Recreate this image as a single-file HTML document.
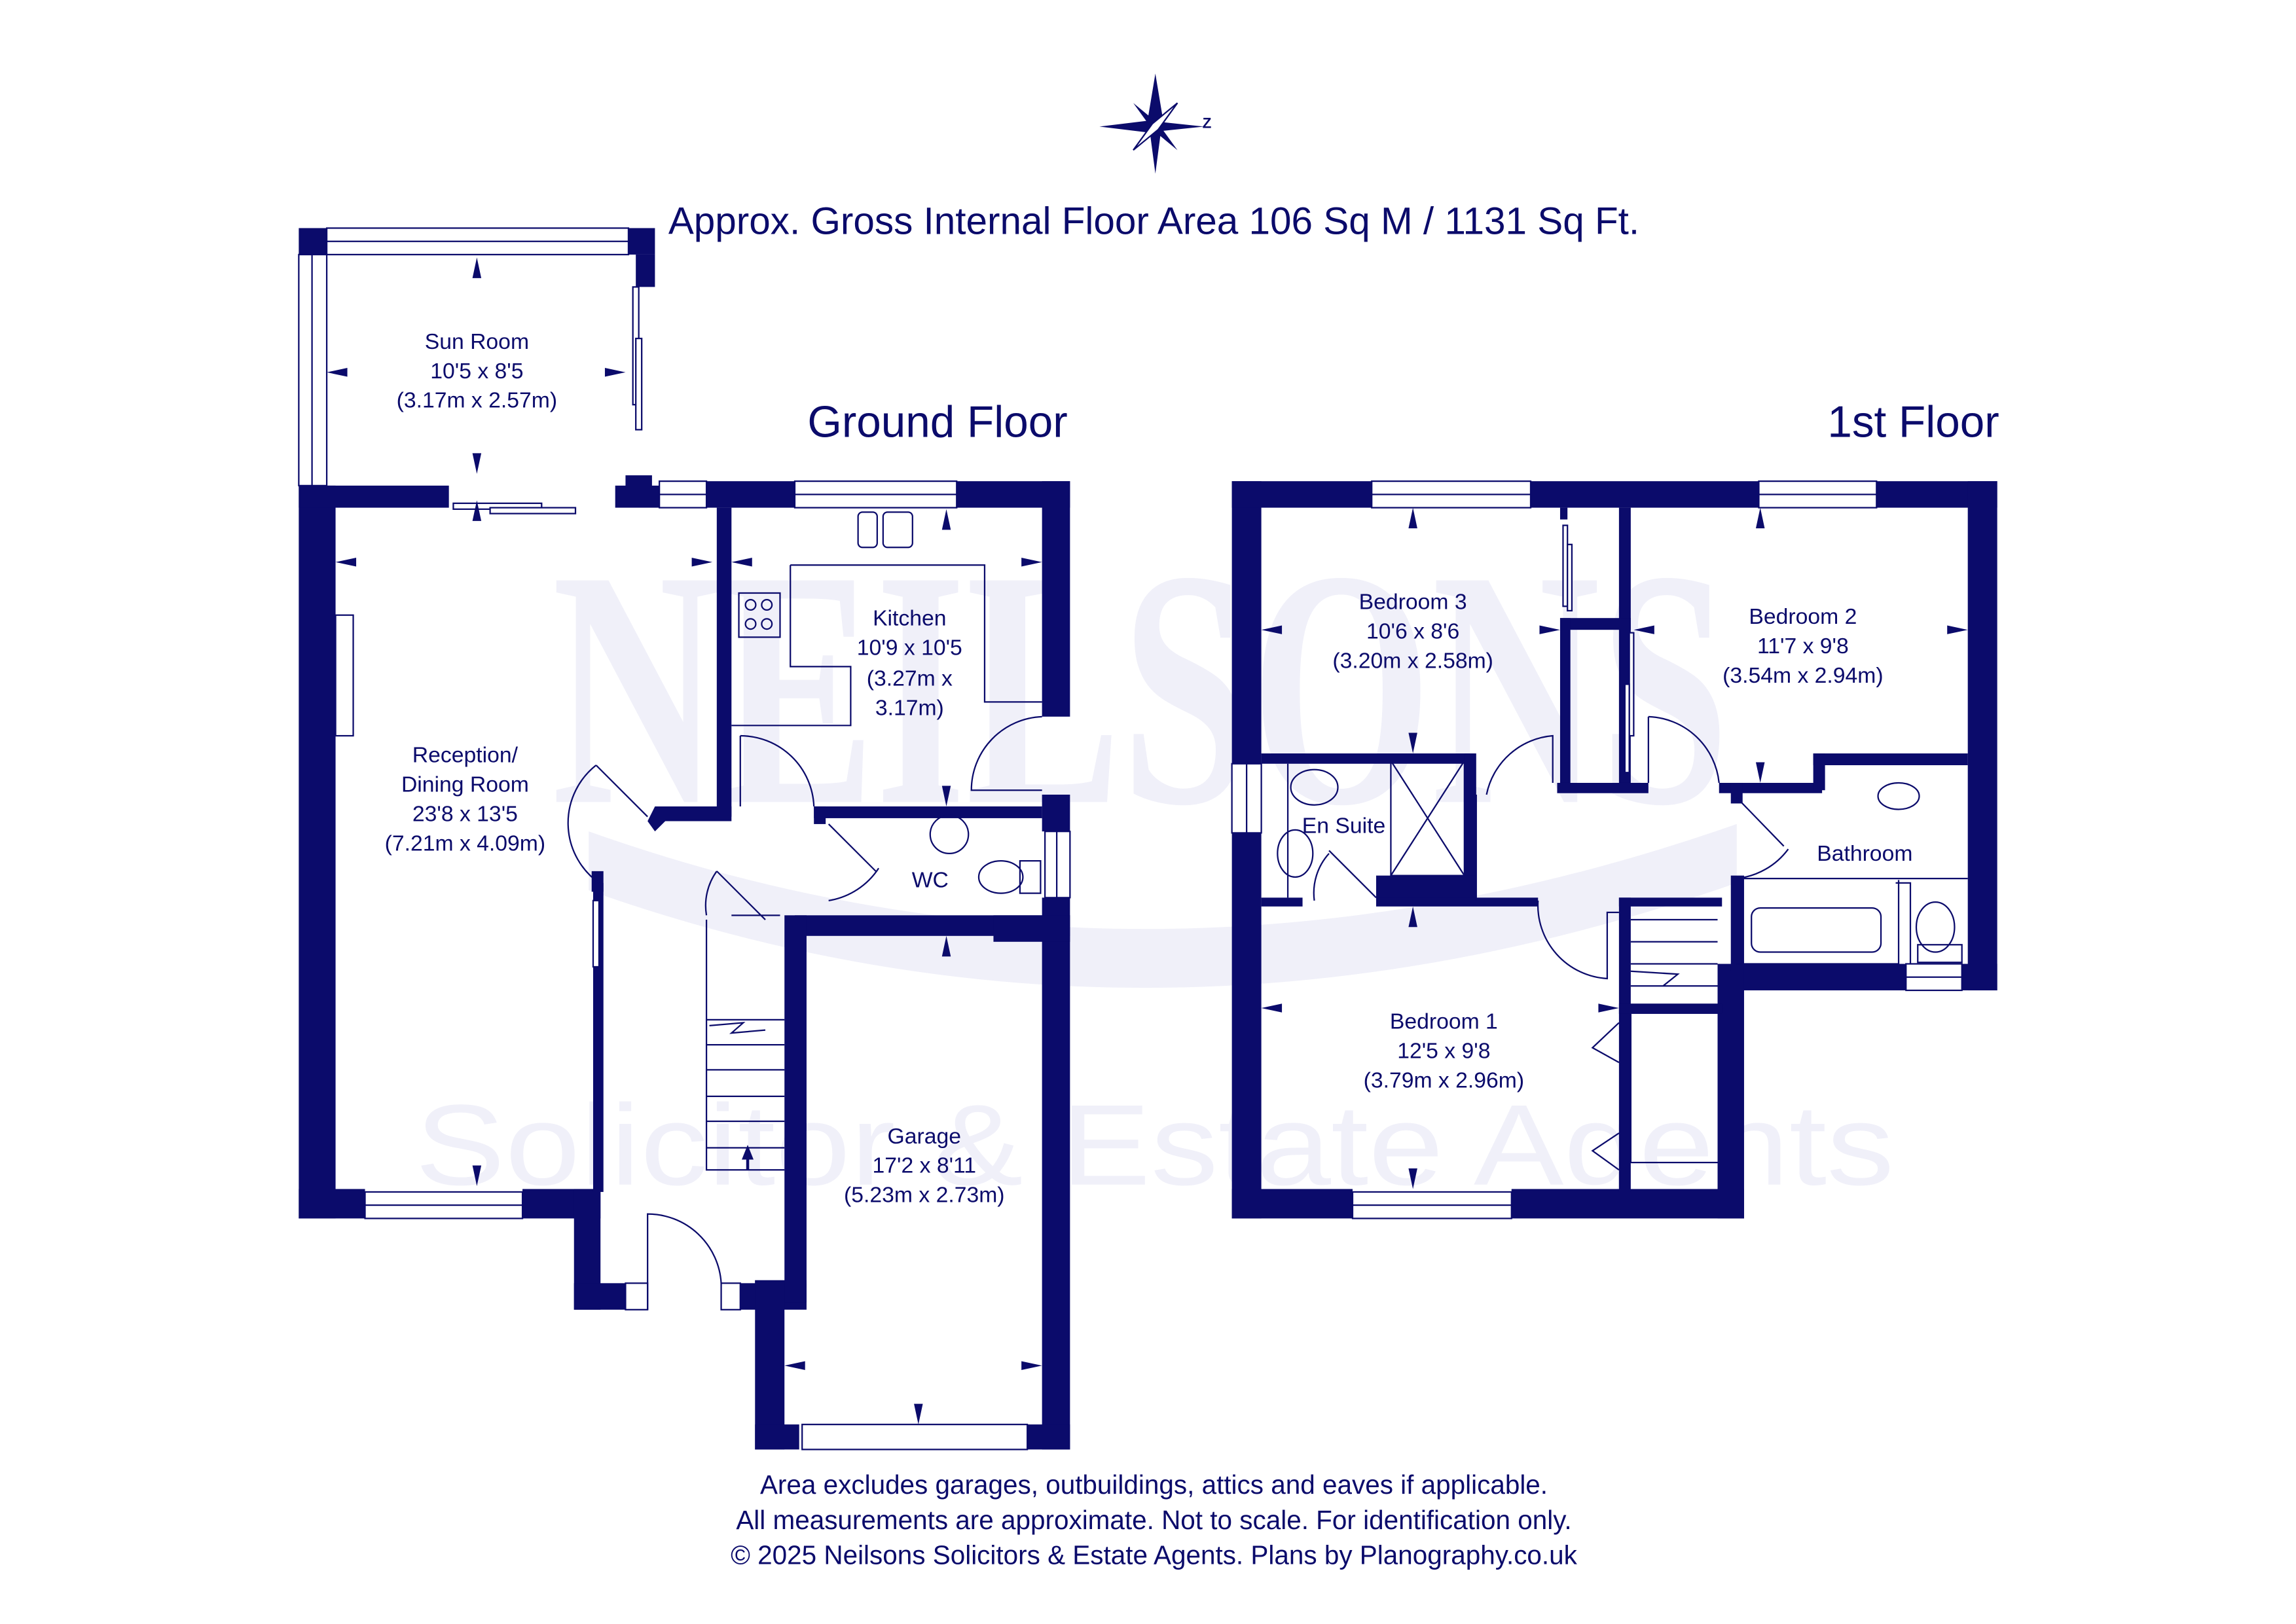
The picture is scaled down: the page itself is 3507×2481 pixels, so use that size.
<!DOCTYPE html>
<html><head><meta charset="utf-8"><style>
html,body{margin:0;padding:0;background:#fff;}
svg{display:block;}
text{font-family:"Liberation Sans",sans-serif;fill:#0b0b6b;}
</style></head><body>
<svg width="3507" height="2481" viewBox="0 0 1560 1103.6" xmlns="http://www.w3.org/2000/svg">
<!-- watermark -->
<g>
<text x="375" y="545" font-size="230" font-weight="bold" textLength="800" lengthAdjust="spacingAndGlyphs" style="fill:#f0f0f9;font-family:'Liberation Serif',serif">NEILSONS</text>
<text x="282" y="805" font-size="78" textLength="1005" lengthAdjust="spacingAndGlyphs" style="fill:#f0f0f9">Solicitor &amp; Estate Agents</text>
</g>
<path d="M400,565 Q780,700 1180,560 L1180,600 Q780,740 400,605Z" fill="#f0f0f9"/>

<!-- compass -->
<g fill="#0b0b6b">
<path d="M785,50 L790,80 L785,118 L780,80Z"/>
<path d="M747,86 L780,82 L818,86 L780,90Z"/>
<path d="M770,70 L787,84 L800,102 L783,88Z"/>
<path d="M800,70 L787,88 L770,102 L783,84Z" fill="#fff" stroke="#0b0b6b"/>
<text x="817" y="87" font-size="10" font-weight="bold">Z</text>
</g>
<text x="784" y="159" font-size="26" text-anchor="middle">Approx. Gross Internal Floor Area 106 Sq M / 1131 Sq Ft.</text>
<text x="637" y="297" font-size="30" text-anchor="middle">Ground Floor</text>
<text x="1300" y="297" font-size="30" text-anchor="middle">1st Floor</text>

<g fill="#0b0b6b" stroke="none">
<rect x="203" y="155" width="19" height="18"/>
<rect x="427" y="155" width="18" height="18"/>
<rect x="432" y="173" width="13" height="22"/>
<rect x="203" y="330" width="25" height="498"/>
<rect x="203" y="330" width="102" height="15"/>
<rect x="203" y="808" width="45" height="20"/>
<rect x="355" y="808" width="53" height="20"/>
<rect x="390" y="808" width="18" height="82"/>
<rect x="403" y="600" width="7" height="210"/>
<rect x="390" y="872" width="35" height="18"/>
<rect x="503" y="872" width="45" height="18"/>
<rect x="418" y="330" width="30" height="15"/>
<rect x="425" y="323" width="18" height="10"/>
<rect x="480" y="327" width="60" height="18"/>
<rect x="650" y="327" width="77" height="18"/>
<rect x="708" y="327" width="19" height="160"/>
<rect x="708" y="540" width="19" height="25"/>
<rect x="708" y="610" width="19" height="375"/>
<rect x="487" y="345" width="10" height="210"/>
<polygon points="445,548 497,548 497,558 452,558 445,565 440,558"/>
<rect x="553" y="548" width="155" height="8"/>
<rect x="553" y="548" width="8" height="12"/>
<rect x="540" y="622" width="187" height="14"/>
<rect x="675" y="622" width="52" height="18"/>
<rect x="533" y="622" width="15" height="253"/>
<rect x="513" y="870" width="35" height="15"/>
<rect x="513" y="870" width="20" height="115"/>
<rect x="513" y="968" width="30" height="17"/>
<rect x="698" y="968" width="29" height="17"/>
<rect x="402" y="592" width="8" height="14"/>

<rect x="837" y="327" width="20" height="501"/>
<rect x="837" y="327" width="95" height="18"/>
<rect x="1040" y="327" width="155" height="18"/>
<rect x="1275" y="327" width="82" height="18"/>
<rect x="1337" y="327" width="20" height="346"/>
<rect x="1180" y="655" width="115" height="18"/>
<rect x="1333" y="655" width="24" height="18"/>
<rect x="1167" y="655" width="18" height="173"/>
<rect x="837" y="808" width="82" height="20"/>
<rect x="1027" y="808" width="158" height="20"/>
<rect x="1100" y="345" width="8" height="192"/>
<rect x="1060" y="345" width="5" height="8"/>
<rect x="1060" y="420" width="48" height="8"/>
<rect x="1060" y="420" width="7" height="117"/>
<rect x="1058" y="532" width="62" height="7"/>
<rect x="1168" y="532" width="70" height="7"/>
<rect x="1232" y="512" width="105" height="8"/>
<rect x="1232" y="512" width="8" height="25"/>
<rect x="1176" y="532" width="8" height="14"/>
<rect x="857" y="512" width="145" height="7"/>
<rect x="995" y="512" width="8" height="100"/>
<rect x="935" y="595" width="68" height="17"/>
<rect x="857" y="610" width="28" height="6"/>
<rect x="935" y="610" width="110" height="6"/>
<rect x="1100" y="610" width="70" height="6"/>
<rect x="1100" y="610" width="8" height="200"/>
<rect x="1100" y="682" width="70" height="7"/>
<rect x="1176" y="595" width="9" height="65"/>
</g>

<g fill="#fff" stroke="#0b0b6b" stroke-width="1">
<rect x="222" y="155" width="205" height="18"/><line x1="222" y1="164" x2="427" y2="164"/>
<rect x="203" y="173" width="19" height="157"/><line x1="212" y1="173" x2="212" y2="330"/>
<rect x="248" y="810" width="107" height="18"/><line x1="248" y1="819" x2="355" y2="819"/>
<rect x="448" y="327" width="32" height="18"/><line x1="448" y1="336" x2="480" y2="336"/>
<rect x="540" y="327" width="110" height="18"/><line x1="540" y1="336" x2="650" y2="336"/>
<rect x="710" y="565" width="17" height="45"/><line x1="718" y1="565" x2="718" y2="610"/>
<rect x="545" y="968" width="153" height="17"/>
<rect x="425" y="872" width="15" height="18"/><rect x="490" y="872" width="13" height="18"/>
<rect x="932" y="327" width="108" height="18"/><line x1="932" y1="336" x2="1040" y2="336"/>
<rect x="1195" y="327" width="80" height="18"/><line x1="1195" y1="336" x2="1275" y2="336"/>
<rect x="919" y="810" width="108" height="18"/><line x1="919" y1="819" x2="1027" y2="819"/>
<rect x="837" y="519" width="20" height="47"/><line x1="847" y1="519" x2="847" y2="566"/>
<rect x="1295" y="655" width="38" height="18"/><line x1="1295" y1="664" x2="1333" y2="664"/>
<rect x="430" y="195" width="4" height="80"/><rect x="432" y="230" width="4" height="62"/>
<rect x="308" y="342" width="60" height="4"/><rect x="333" y="345" width="58" height="4"/>
<rect x="403" y="612" width="4" height="45"/>
<rect x="228" y="418" width="12" height="82"/>
<rect x="1062" y="357" width="3" height="55"/><rect x="1065" y="370" width="3" height="45"/>
<rect x="1107" y="430" width="3" height="70"/><rect x="1104" y="465" width="3" height="60"/>
</g>

<g fill="none" stroke="#0b0b6b" stroke-width="1">
<path d="M537,384 L669,384 L669,477 L708,477"/>
<path d="M537,384 L537,453 L578,453 L578,493 L497,493"/>
<rect x="502" y="403" width="28" height="30"/>
<circle cx="510" cy="411" r="3.5"/><circle cx="521" cy="411" r="3.5"/><circle cx="510" cy="424" r="3.5"/><circle cx="521" cy="424" r="3.5"/>
<rect x="583" y="348" width="13" height="24" rx="3"/><rect x="600" y="348" width="20" height="24" rx="3"/>
<path d="M708,487 A50,50 0 0 0 660,537 L708,537"/>
<path d="M503,500 L503,548 M503,500 A50,50 0 0 1 553,548"/>
<path d="M440,555 L405,520 M405,520 A50,50 0 0 0 407,600"/>
<path d="M563,560 L595,592 M563,612 A50,50 0 0 0 597,590"/>
<circle cx="645" cy="567" r="13"/>
<ellipse cx="680" cy="596" rx="15" ry="11"/><rect x="693" y="585" width="14" height="22"/>
<path d="M480,625 L480,795 L533,795 M480,693 L533,693 M480,710 L533,710 M480,727 L533,727 M480,745 L533,745 M480,762 L533,762 M480,780 L533,780"/>
<path d="M482,697 L505,695 L497,702 L520,700"/>
<path d="M497,622 L530,622 M487,592 L520,625 M487,592 A40,40 0 0 0 480,622"/>
<path d="M440,890 L440,825 A50,50 0 0 1 490,872"/>
<path d="M1185,597 L1337,597 M1180,655 L1290,655 L1290,598 M1288,600 L1298,600 L1298,655"/>
<rect x="1190" y="617" width="88" height="30" rx="6"/>
<ellipse cx="1290" cy="541" rx="14" ry="9"/>
<ellipse cx="1315" cy="630" rx="13" ry="17"/><rect x="1303" y="642" width="30" height="12"/>
<path d="M1180,542 L1212,575 M1180,597 A50,50 0 0 0 1215,577"/>
<path d="M1003,612 L1003,540 M1010,540 A50,50 0 0 1 1055,500 L1055,532"/>
<path d="M1120,487 L1120,532 M1120,487 A50,50 0 0 1 1168,532"/>
<path d="M1045,612 A50,50 0 0 0 1092,665 L1092,620 L1100,620"/>
<path d="M1108,625 L1167,625 M1108,640 L1167,640 M1108,655 L1167,655 M1108,670 L1167,670 M1108,660 L1140,662 L1130,670"/>
<path d="M1108,689 L1108,790 L1167,790 M1100,695 L1082,712 L1100,722 M1100,770 L1082,782 L1100,795"/>
<rect x="945" y="517" width="50" height="78"/><path d="M945,517 L995,595 M995,517 L945,595"/>
<path d="M875,519 L875,610"/>
<ellipse cx="893" cy="535" rx="16" ry="12"/><ellipse cx="880" cy="580" rx="12" ry="16"/>
<path d="M935,610 L903,578 M893,612 A40,40 0 0 1 903,580"/>
</g>

<g>
<path fill="#0b0b6b" d="M324,175 l-3,14 h6z M324,322 l-3,-14 h6z M324,340 l-3,14 h6z M324,806 l-3,-14 h6z M222,253 l14,-3 v6z M425,253 l-14,-3 v6z M228,382 l14,-3 v6z M484,382 l-14,-3 v6z M497,382 l14,-3 v6z M708,382 l-14,-3 v6z M643,346 l-3,14 h6z M643,548 l-3,-14 h6z M643,636 l-3,14 h6z M533,928 l14,-3 v6z M708,928 l-14,-3 v6z M624,968 l-3,-14 h6z"/>
<path fill="#0b0b6b" d="M960,345 l-3,14 h6z M960,512 l-3,-14 h6z M857,428 l14,-3 v6z M1060,428 l-14,-3 v6z M1110,428 l14,-3 v6z M1337,428 l-14,-3 v6z M1196,345 l-3,14 h6z M1196,532 l-3,-14 h6z M960,616 l-3,14 h6z M960,808 l-3,-14 h6z M857,685 l14,-3 v6z M1100,685 l-14,-3 v6z M508,778 l-4,10 h8z"/>
<rect x="507" y="785" width="2" height="10" fill="#0b0b6b"/>
</g>

<g font-size="15" text-anchor="middle">
<text x="324" y="237">Sun Room</text><text x="324" y="257">10'5 x 8'5</text><text x="324" y="277">(3.17m x 2.57m)</text>
<text x="316" y="518">Reception/</text><text x="316" y="538">Dining Room</text><text x="316" y="558">23'8 x 13'5</text><text x="316" y="578">(7.21m x 4.09m)</text>
<text x="618" y="425">Kitchen</text><text x="618" y="445">10'9 x 10'5</text><text x="618" y="466">(3.27m x</text><text x="618" y="486">3.17m)</text>
<text x="632" y="603">WC</text>
<text x="628" y="777">Garage</text><text x="628" y="797">17'2 x 8'11</text><text x="628" y="817">(5.23m x 2.73m)</text>
<text x="960" y="414">Bedroom 3</text><text x="960" y="434">10'6 x 8'6</text><text x="960" y="454">(3.20m x 2.58m)</text>
<text x="1225" y="424">Bedroom 2</text><text x="1225" y="444">11'7 x 9'8</text><text x="1225" y="464">(3.54m x 2.94m)</text>
<text x="913" y="566">En Suite</text>
<text x="1267" y="585">Bathroom</text>
<text x="981" y="699">Bedroom 1</text><text x="981" y="719">12'5 x 9'8</text><text x="981" y="739">(3.79m x 2.96m)</text>
</g>
<g font-size="18" text-anchor="middle">
<text x="784" y="1015">Area excludes garages, outbuildings, attics and eaves if applicable.</text>
<text x="784" y="1039">All measurements are approximate. Not to scale. For identification only.</text>
<text x="784" y="1063">© 2025 Neilsons Solicitors &amp; Estate Agents. Plans by Planography.co.uk</text>
</g>
</svg>
</body></html>
